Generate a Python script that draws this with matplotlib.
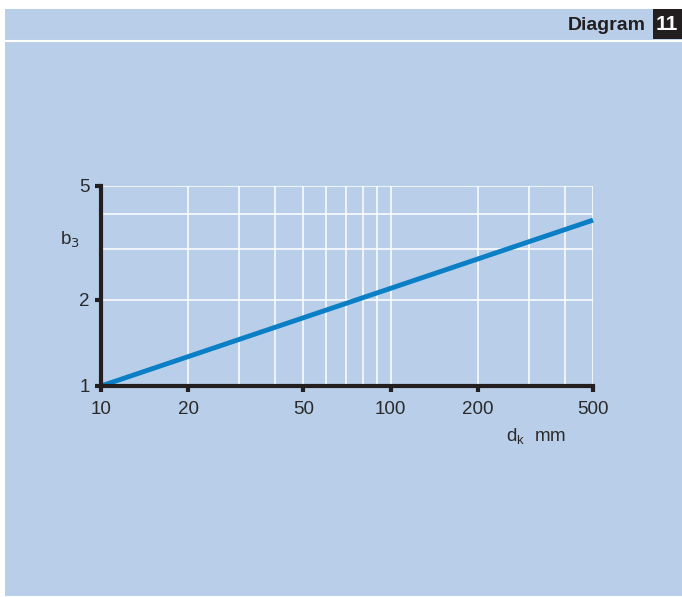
import matplotlib
matplotlib.use("Agg")
import matplotlib.pyplot as plt
from matplotlib.patches import Rectangle
from matplotlib.lines import Line2D

# Data
dk = [10, 500]
b3 = [1, 3.8]
x_ticks = [10, 20, 50, 100, 200, 500]
x_tick_labels = ["10", "20", "50", "100", "200", "500"]
x_grid = [20, 30, 40, 50, 60, 70, 80, 90, 100, 200, 300, 400, 500]
y_ticks = [1, 2, 5]
y_tick_labels = ["1", "2", "5"]
y_grid = [2, 3, 4, 5]

BG = "#b9cfe9"
LINE = "#0a7fc6"
DARK = "#231f20"

plt.rcParams['font.family'] = ['Liberation Sans', 'DejaVu Sans']

W, H = 682, 597
fig = plt.figure(figsize=(W / 100, H / 100), dpi=100)
fig.patch.set_facecolor("white")

# background panel
fig.add_artist(Rectangle((5 / W, 1 - 596 / H), (W - 5) / W, (596 - 9) / H,
                         transform=fig.transFigure, facecolor=BG, edgecolor="none", zorder=0))
# header white line
fig.add_artist(Line2D([5 / W, 1], [1 - 41 / H, 1 - 41 / H], transform=fig.transFigure,
                      color="white", lw=1.5, zorder=1))
# black box with number
fig.add_artist(Rectangle((653 / W, 1 - 39 / H), (W - 653) / W, 30 / H,
                         transform=fig.transFigure, facecolor=DARK, edgecolor="none", zorder=1))
fig.text(667 / W, 1 - 25 / H, "11", color="white", fontsize=15, fontweight="bold",
         ha="center", va="center")
fig.text(646 / W, 1 - 25 / H, "Diagram", color=DARK, fontsize=14, fontweight="bold",
         ha="right", va="center")

ax = fig.add_axes([101 / W, 1 - 386 / H, (593 - 101) / W, (386 - 186) / H])
ax.set_facecolor("none")
ax.set_xscale("log")
ax.set_yscale("log")
ax.set_xlim(10, 500)
ax.set_ylim(1, 5)

for xv in x_grid:
    ax.axvline(xv, color="white", lw=1.1, zorder=1)
for yv in y_grid:
    ax.axhline(yv, color="white", lw=1.1, zorder=1)

ax.plot(dk, b3, color=LINE, lw=3.5, solid_capstyle="butt", zorder=3, clip_on=False)

ax.xaxis.set_minor_locator(matplotlib.ticker.NullLocator())
ax.yaxis.set_minor_locator(matplotlib.ticker.NullLocator())
ax.set_xticks(x_ticks)
ax.set_xticklabels(x_tick_labels)
ax.set_yticks(y_ticks)
ax.set_yticklabels(y_tick_labels)
ax.tick_params(axis="both", which="major", direction="out", length=4, width=3,
               color=DARK, labelcolor="#2a2a2a", labelsize=13.5)
ax.tick_params(axis="x", pad=7)
ax.tick_params(axis="y", pad=4)

for s in ["top", "right"]:
    ax.spines[s].set_visible(False)
for s in ["left", "bottom"]:
    ax.spines[s].set_color(DARK)
    ax.spines[s].set_linewidth(3)
    ax.spines[s].set_zorder(4)

fig.text(70 / W, 1 - 240 / H, "b$_3$", color="#2a2a2a", fontsize=13.5, ha="center", va="center")
fig.text(536 / W, 1 - 437 / H, "d$_\\mathregular{k}$  mm", color="#2a2a2a", fontsize=13.5,
         ha="center", va="center")

fig.savefig("out.png", dpi=100, facecolor=fig.get_facecolor())
